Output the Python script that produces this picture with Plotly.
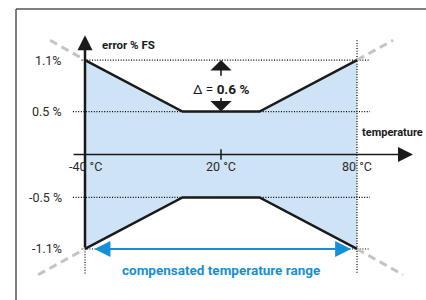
import plotly.graph_objects as go

# ---- data ----
temp_pts = [-40, 3, 37, 80]          # °C
err_upper = [1.1, 0.5, 0.5, 1.1]     # error % FS, upper bound
err_lower = [-1.1, -0.5, -0.5, -1.1] # error % FS, lower bound

ytick_vals = [1.1, 0.5, -0.5, -1.1]
ytick_text = ["1.1%", "0.5 %", "-0.5 %", "-1.1%"]
xtick_vals = [-40, 20, 80]
xtick_text = ["-40 °C", "20 °C", "80 °C"]

# extrapolated error outside the compensated range (grey dashed)
ext_tl_x, ext_tl_y = [-55.4, -40], [1.33, 1.1]
ext_tr_x, ext_tr_y = [80, 95.9], [1.1, 1.33]
ext_bl_x, ext_bl_y = [-60.7, -40], [-1.40, -1.1]
ext_br_x, ext_br_y = [80, 100.3], [-1.1, -1.40]

delta_label = "Δ = <b>0.6 %</b>"
comp_label = "compensated temperature range"

BLACK = "#1a1a1a"
BLUE = "#1490d8"
FILL = "#cfe3f6"
GREY = "#c4c4c4"
FONT = "Roboto, Open Sans, sans-serif"
DOT = "1px,1.6px"

fig = go.Figure()

# filled band
fig.add_trace(go.Scatter(
    x=temp_pts + temp_pts[::-1] + [temp_pts[0]],
    y=err_upper + err_lower[::-1] + [err_upper[0]],
    fill="toself", fillcolor=FILL, mode="lines", line=dict(width=0),
    hoverinfo="skip", showlegend=False))

# dotted reference lines
x_lo = min(temp_pts)
x_hi = max(temp_pts)
for v in ytick_vals:
    start = x_lo - 1.5 if abs(v) > 1 else x_lo - 5.3
    fig.add_trace(go.Scatter(
        x=[start, x_hi + 5.7], y=[v, v], mode="lines",
        line=dict(color="#000", width=1.2, dash=DOT),
        hoverinfo="skip", showlegend=False))
fig.add_trace(go.Scatter(
    x=[x_hi, x_hi], y=[1.33, -1.39], mode="lines",
    line=dict(color="#000", width=1.2, dash=DOT), hoverinfo="skip", showlegend=False))
fig.add_trace(go.Scatter(
    x=[x_lo, x_lo], y=[err_lower[0], -1.39], mode="lines",
    line=dict(color="#000", width=1.2, dash=DOT), hoverinfo="skip", showlegend=False))

# grey dashed extrapolations
for ex, ey in [(ext_tl_x, ext_tl_y), (ext_tr_x, ext_tr_y),
               (ext_bl_x, ext_bl_y), (ext_br_x, ext_br_y)]:
    fig.add_trace(go.Scatter(
        x=ex, y=ey, mode="lines",
        line=dict(color=GREY, width=3, dash="8px,5px"),
        hoverinfo="skip", showlegend=False))

# black boundaries
fig.add_trace(go.Scatter(x=temp_pts, y=err_upper, mode="lines",
                         line=dict(color=BLACK, width=2.5),
                         hoverinfo="skip", showlegend=False))
fig.add_trace(go.Scatter(x=temp_pts, y=err_lower, mode="lines",
                         line=dict(color=BLACK, width=2.5),
                         hoverinfo="skip", showlegend=False))

# tick at 20 °C
fig.add_trace(go.Scatter(x=[xtick_vals[1], xtick_vals[1]], y=[0.06, -0.06], mode="lines",
                         line=dict(color=BLACK, width=1.5),
                         hoverinfo="skip", showlegend=False))

ann = []
# x axis arrow
ann.append(dict(x=104.7, y=0, ax=-45.7, ay=0, xref="x", yref="y", axref="x", ayref="y",
                showarrow=True, arrowhead=2, arrowsize=2, arrowwidth=1.5,
                arrowcolor=BLACK, standoff=0, text=""))
# y axis arrow
ann.append(dict(x=x_lo, y=1.39, ax=x_lo, ay=err_lower[0], xref="x", yref="y",
                axref="x", ayref="y", showarrow=True, arrowhead=2, arrowsize=1.2,
                arrowwidth=2.5, arrowcolor=BLACK, standoff=0, text=""))
# delta arrows
ann.append(dict(x=20, y=err_upper[0], ax=20, ay=0.9, xref="x", yref="y", axref="x",
                ayref="y", showarrow=True, arrowhead=1, arrowsize=2.2, arrowwidth=1.6,
                arrowcolor=BLACK, standoff=0, text=""))
ann.append(dict(x=20, y=err_upper[1], ax=20, ay=0.675, xref="x", yref="y", axref="x",
                ayref="y", showarrow=True, arrowhead=1, arrowsize=2.2, arrowwidth=1.6,
                arrowcolor=BLACK, standoff=0, text=""))
# compensated range arrow
ann.append(dict(x=x_hi - 2.6, y=err_lower[0], ax=x_lo + 3.5, ay=err_lower[0], xref="x",
                yref="y", axref="x", ayref="y", showarrow=True, arrowhead=2,
                startarrowhead=2, arrowside="end+start", arrowsize=1.6,
                startarrowsize=1.6, arrowwidth=2, arrowcolor=BLUE, standoff=0, text=""))

# y tick labels
for v, t in zip(ytick_vals, ytick_text):
    ann.append(dict(x=x_lo, y=v, xref="x", yref="y", text=t, showarrow=False,
                    xanchor="right", xshift=-21, font=dict(family=FONT, size=12.5, color="#2a2a2a")))
# x tick labels
for v, t in zip(xtick_vals, xtick_text):
    ann.append(dict(x=v, y=0, xref="x", yref="y", text=t, showarrow=False,
                    xanchor="center", yanchor="top", yshift=-2,
                    font=dict(family=FONT, size=12.5, color="#2a2a2a")))

ann.append(dict(x=-33.4, y=1.275, xref="x", yref="y", text="<b>error % FS</b>",
                showarrow=False, xanchor="left", font=dict(family=FONT, size=11.5, color=BLACK)))
ann.append(dict(x=81.3, y=0.262, xref="x", yref="y", text="<b>temperature</b>",
                showarrow=False, xanchor="left", font=dict(family=FONT, size=11, color=BLACK)))
ann.append(dict(x=20, y=0.76, xref="x", yref="y", text=delta_label, showarrow=False,
                xanchor="center", font=dict(family=FONT, size=13.5, color=BLACK)))
ann.append(dict(x=20, y=-1.345, xref="x", yref="y", text="<b>" + comp_label + "</b>",
                showarrow=False, xanchor="center", font=dict(family=FONT, size=13.5, color=BLUE)))

fig.update_layout(
    width=426, height=300, autosize=False,
    margin=dict(l=0, r=0, t=0, b=0),
    paper_bgcolor="white", plot_bgcolor="white",
    xaxis=dict(range=[-77.5, 110.44], visible=False, fixedrange=True),
    yaxis=dict(range=[-1.694, 1.799], visible=False, fixedrange=True),
    annotations=ann,
    shapes=[
        dict(type="line", xref="paper", yref="paper", x0=16 / 426, x1=16 / 426,
             y0=0, y1=1 - 9 / 300, line=dict(color="#555", width=1.5)),
        dict(type="line", xref="paper", yref="paper", x0=16 / 426, x1=1,
             y0=1 - 9 / 300, y1=1 - 9 / 300, line=dict(color="#555", width=1.5)),
    ],
    showlegend=False,
)

fig.write_html("out.html", config={"displayModeBar": False},
               post_script="document.body.style.margin='0px';document.body.style.overflow='hidden';")
